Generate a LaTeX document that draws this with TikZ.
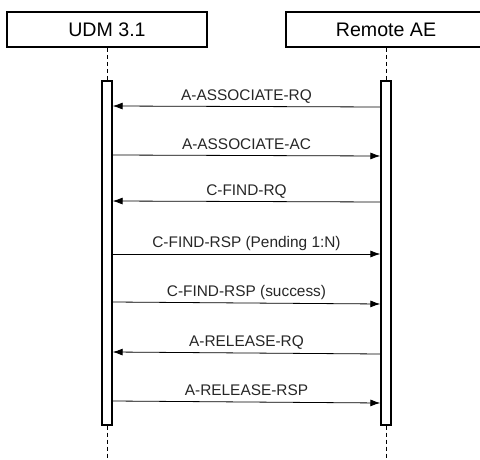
\documentclass[tikz,border=0pt]{standalone}
\usepackage{fontspec}
\setmainfont{Liberation Sans}
\usepackage{tikz}
\usetikzlibrary{arrows.meta,positioning}
\tikzstyle{actor}=[rectangle, draw, line width=1.6pt, minimum width=200pt, minimum height=35pt, inner sep=0pt, font=\fontsize{19.6}{22}\selectfont]
\tikzstyle{bar}=[rectangle, draw, line width=1.3pt, fill=white, minimum width=10pt, minimum height=344pt, inner sep=0pt]
\tikzstyle{life}=[line width=0.7pt, dash pattern=on 4pt off 3pt]
\tikzstyle{msg}=[line width=0.8pt, -{Latex[length=10pt,width=7pt]}]
\tikzstyle{msglabel}=[above, inner sep=0pt, text depth=0pt, yshift=6pt, text=black!85, font=\fontsize{15.4}{17}\selectfont]
\newcommand{\actor}{\node[actor]}
\newcommand{\msg}[3]{\draw[msg] (#1) -- node[msglabel]{#3} (#2);}

\begin{document}
\begin{tikzpicture}[x=1pt,y=-1pt]
	\useasboundingbox (0,0) rectangle (480,460);
	\actor (udm) at (107,29.5) {UDM 3.1};
	\actor (remote) at (386,29.5) {Remote AE};
	\node[bar] (barU) at (107,253) {};
	\node[bar] (barR) at (386,253) {};
	\coordinate (endU) at (107,460);
	\coordinate (endR) at (386,460);
	\draw[life] (udm) -- (barU);
	\draw[life] (barU) -- (endU);
	\draw[life] (remote) -- (barR);
	\draw[life] (barR) -- (endR);
  % message end points on the activation bars
	\coordinate (u1) at (barU.east |- 0,106);  \coordinate (r1) at (barR.west |- 0,107);
	\coordinate (u2) at (barU.east |- 0,155);  \coordinate (r2) at (barR.west |- 0,156);
	\coordinate (u3) at (barU.east |- 0,201);  \coordinate (r3) at (barR.west |- 0,202);
	\coordinate (u4) at (barU.east |- 0,254);  \coordinate (r4) at (barR.west |- 0,254);
	\coordinate (u5) at (barU.east |- 0,302);  \coordinate (r5) at (barR.west |- 0,304);
	\coordinate (u6) at (barU.east |- 0,352);  \coordinate (r6) at (barR.west |- 0,354);
	\coordinate (u7) at (barU.east |- 0,401);  \coordinate (r7) at (barR.west |- 0,403);
	\msg{r1}{u1}{A-ASSOCIATE-RQ}
	\msg{u2}{r2}{A-ASSOCIATE-AC}
	\msg{r3}{u3}{C-FIND-RQ}
	\msg{u4}{r4}{C-FIND-RSP (Pending 1:N)}
	\msg{u5}{r5}{C-FIND-RSP (success)}
	\msg{r6}{u6}{A-RELEASE-RQ}
	\msg{u7}{r7}{A-RELEASE-RSP}
\end{tikzpicture}
\end{document}
